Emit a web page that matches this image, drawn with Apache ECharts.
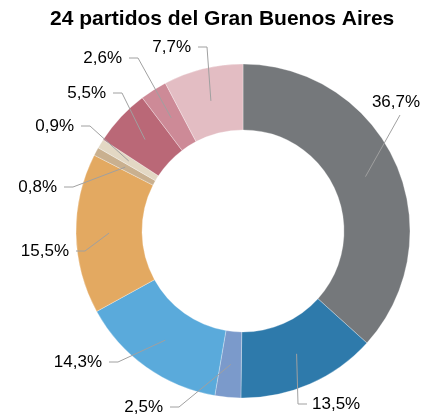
<!DOCTYPE html>
<html>
<head>
    <meta charset="utf-8" />
    <title>24 partidos del Gran Buenos Aires</title>
    <script src="https://cdn.jsdelivr.net/npm/echarts@6/dist/echarts.min.js"></script>
    <style>
        html, body { margin: 0; padding: 0; background: #fff; }
        #chart { width: 424px; height: 419px; }
    </style>
</head>
<body>
    <div id="chart"></div>
    <script>
        // porcentajes, en sentido horario desde arriba
        var shares = [36.7, 13.5, 2.5, 14.3, 15.5, 0.8, 0.9, 5.5, 2.6, 7.7];
        var sliceColors = ['#75787b', '#2e7aab', '#7b9acb', '#5aaadb', '#e3a961',
                           '#c9b08f', '#e3d8c4', '#ba6877', '#cd8a97', '#e3bdc3'];

        // donde va cada etiqueta: [x, y, alineacion]
        var labelSpots = [
            [396, 102, 'center'],
            [312, 404, 'left'],
            [163, 407, 'right'],
            [102, 362, 'right'],
            [69, 251, 'right'],
            [57, 187, 'right'],
            [74, 126, 'right'],
            [106, 93, 'right'],
            [122, 58, 'right'],
            [191, 47, 'right']
        ];

        var cx = 243, cy = 231;
        var rOuter = 167, rInner = 101;
        var rLine = 134;

        var total = shares.reduce(function (a, b) { return a + b; }, 0);

        var chart = echarts.init(document.getElementById('chart'));

        function fmt(v) {
            return v.toFixed(1).replace('.', ',') + '%';
        }

        // angulo medio de cada sector, en sentido horario desde arriba
        function midAngle(i) {
            var before = 0;
            for (var k = 0; k < i; k++) before += shares[k];
            return (before + shares[i] / 2) / total * Math.PI * 2;
        }

        // linea guia: desde el centro del anillo hasta la etiqueta
        function guidePoints(i) {
            var a = midAngle(i);
            var start = [cx + rLine * Math.sin(a), cy - rLine * Math.cos(a)];
            var spot = labelSpots[i];
            var x = spot[0], y = spot[1];
            if (spot[2] === 'right') return [start, [x + 16, y], [x + 7, y]];
            if (spot[2] === 'left') return [start, [x - 14, y], [x - 5, y]];
            return [start, [x + 4, y + 13]];
        }

        var option = {
            animation: false,
            title: {
                text: '24 partidos del Gran Buenos Aires',
                left: 45,
                top: 4,
                textStyle: {
                    fontFamily: 'Liberation Sans, Arial',
                    fontSize: 21,
                    fontWeight: 'bold',
                    color: '#000'
                }
            },
            series: [{
                type: 'pie',
                center: [cx, cy],
                radius: [rInner, rOuter],
                startAngle: 90,
                clockwise: true,
                silent: true,
                avoidLabelOverlap: false,
                data: shares.map(function (v, i) {
                    return { value: v, itemStyle: { color: sliceColors[i] } };
                }),
                itemStyle: { borderColor: 'rgba(255,255,255,0.6)', borderWidth: 0.5 },
                label: {
                    show: true,
                    position: 'outside',
                    formatter: function (p) { return fmt(p.value); },
                    fontFamily: 'Liberation Sans, Arial',
                    fontSize: 17,
                    color: '#000'
                },
                labelLine: { show: false },
                labelLayout: function (params) {
                    var spot = labelSpots[params.dataIndex];
                    return {
                        x: spot[0],
                        y: spot[1],
                        align: spot[2],
                        verticalAlign: 'middle'
                    };
                }
            }, {
                type: 'custom',
                coordinateSystem: 'none',
                silent: true,
                z: 5,
                data: shares.map(function (v, i) { return [i]; }),
                renderItem: function (params, api) {
                    var i = params.dataIndex;
                    return {
                        type: 'polyline',
                        shape: { points: guidePoints(i) },
                        style: { stroke: '#a0a0a0', lineWidth: 1, fill: null }
                    };
                }
            }]
        };

        chart.setOption(option);
    </script>
</body>
</html>
